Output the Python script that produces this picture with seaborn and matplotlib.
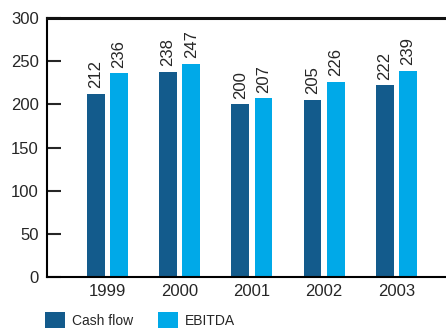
import matplotlib
matplotlib.use("Agg")
import matplotlib.pyplot as plt
import seaborn as sns
import pandas as pd

years = ["1999", "2000", "2001", "2002", "2003"]
cash_flow = [212, 238, 200, 205, 222]
ebitda = [236, 247, 207, 226, 239]
series_names = ["Cash flow", "EBITDA"]
colors = ["#135B8C", "#00A9E8"]

sns.set_style("white")
plt.rcParams['font.family'] = ['Liberation Sans', 'DejaVu Sans']

df = pd.DataFrame({
    "year": years * 2,
    "value": cash_flow + ebitda,
    "series": [series_names[0]] * len(years) + [series_names[1]] * len(years),
})

fig = plt.figure(figsize=(4.46, 3.33), dpi=100)
W, H = 446, 333
ax = fig.add_axes([47 / W, 1 - 277 / H, (W - 47) / W + 0.01, (277 - 18) / H])

sns.barplot(data=df, x="year", y="value", hue="series", palette=colors,
            width=0.644, gap=0.233, ax=ax, saturation=1, legend=True,
            linewidth=0, edgecolor="none")

for cont in ax.containers:
    ax.bar_label(cont, rotation=90, padding=4, fontsize=12)

ax.set_ylim(0, 300)
ax.set_xlim(-0.836, 4.75)
ax.set_yticks([0, 50, 100, 150, 200, 250, 300])
ax.set_xlabel("")
ax.set_ylabel("")
ax.tick_params(axis="y", direction="in", length=10, width=1.5, labelsize=12, pad=6, left=True)
ax.tick_params(axis="x", length=0, labelsize=12, pad=5)
for s in ["left", "bottom"]:
    ax.spines[s].set_linewidth(1.5)
    ax.spines[s].set_color("black")
ax.spines["top"].set_linewidth(2.2)
ax.spines["top"].set_color("#111111")
ax.spines["right"].set_visible(False)

handles, labels = ax.get_legend_handles_labels()
ax.legend(handles, labels, loc="upper left", bbox_to_anchor=(45 / W, 1 - 312 / H),
          bbox_transform=fig.transFigure, ncol=2, frameon=False, fontsize=10,
          handlelength=1.45, handleheight=1.45, handletextpad=0.5, columnspacing=1.75,
          borderaxespad=0, borderpad=0)

fig.savefig("out.png", dpi=100)
